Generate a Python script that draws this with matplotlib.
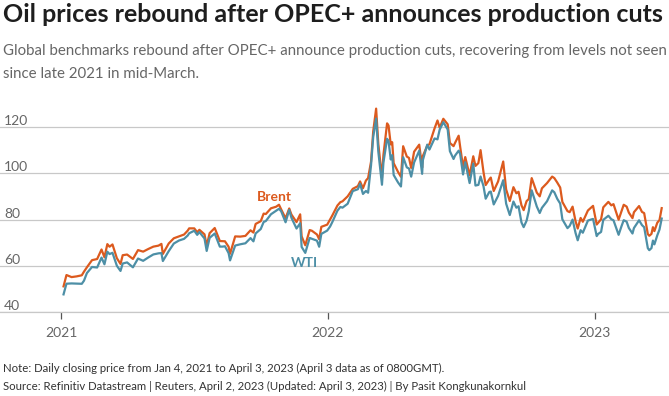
import matplotlib
matplotlib.use('Agg')
import matplotlib.pyplot as plt
import pandas as pd

# =========================
# DONNEES
# =========================
dates = [
    '2021-01-04', '2021-01-08', '2021-01-15', '2021-01-22', '2021-01-29', '2021-02-05',
    '2021-02-12', '2021-02-19', '2021-02-25', '2021-03-01', '2021-03-05', '2021-03-12',
    '2021-03-18', '2021-03-23', '2021-03-26', '2021-04-01', '2021-04-09', '2021-04-16',
    '2021-04-23', '2021-04-30', '2021-05-07', '2021-05-14', '2021-05-20', '2021-05-28',
    '2021-06-04', '2021-06-11', '2021-06-18', '2021-06-25', '2021-07-02', '2021-07-09',
    '2021-07-16', '2021-07-19', '2021-07-23', '2021-07-30', '2021-08-06', '2021-08-13',
    '2021-08-20', '2021-08-27', '2021-09-03', '2021-09-10', '2021-09-17', '2021-09-24',
    '2021-10-01', '2021-10-08', '2021-10-15', '2021-10-22', '2021-10-29', '2021-11-04',
    '2021-11-09', '2021-11-12', '2021-11-19', '2021-11-24', '2021-11-26', '2021-12-01',
    '2021-12-07', '2021-12-10', '2021-12-17', '2021-12-23', '2021-12-31',
    '2022-01-07', '2022-01-14', '2022-01-21', '2022-01-28', '2022-02-04', '2022-02-11',
    '2022-02-18', '2022-02-25', '2022-03-01', '2022-03-04', '2022-03-08', '2022-03-11',
    '2022-03-16', '2022-03-18', '2022-03-23', '2022-03-25', '2022-04-01', '2022-04-07',
    '2022-04-11', '2022-04-14', '2022-04-22', '2022-04-25', '2022-04-29', '2022-05-06',
    '2022-05-11', '2022-05-17', '2022-05-20', '2022-05-27', '2022-06-03', '2022-06-08',
    '2022-06-14', '2022-06-17', '2022-06-22', '2022-06-29', '2022-07-01', '2022-07-05',
    '2022-07-08', '2022-07-14', '2022-07-19', '2022-07-22', '2022-07-29', '2022-08-05',
    '2022-08-12', '2022-08-16', '2022-08-22', '2022-08-29', '2022-09-02', '2022-09-07',
    '2022-09-12', '2022-09-16', '2022-09-23', '2022-09-26', '2022-09-30', '2022-10-07',
    '2022-10-14', '2022-10-18', '2022-10-21', '2022-10-28', '2022-11-04', '2022-11-11',
    '2022-11-18', '2022-11-25', '2022-11-28', '2022-12-02', '2022-12-09', '2022-12-16',
    '2022-12-23', '2022-12-30',
    '2023-01-04', '2023-01-06', '2023-01-13', '2023-01-20', '2023-01-27', '2023-02-03',
    '2023-02-10', '2023-02-17', '2023-02-24', '2023-03-03', '2023-03-07', '2023-03-10',
    '2023-03-15', '2023-03-17', '2023-03-20', '2023-03-24', '2023-03-28', '2023-03-31',
    '2023-04-03',
    # points intermediaires
    '2021-02-01', '2021-03-08', '2021-05-18', '2021-06-23', '2021-07-06', '2021-08-10',
    '2021-08-18', '2021-09-21', '2021-10-05', '2021-10-26', '2021-12-20', '2022-01-04',
    '2022-01-18', '2022-02-14', '2022-02-22', '2022-03-28', '2022-03-30', '2022-04-19',
    '2022-05-10', '2022-05-31', '2022-06-24', '2022-07-26', '2022-08-02', '2022-08-10',
    '2022-09-19', '2022-10-03', '2022-11-07', '2022-11-15', '2022-12-06', '2022-12-13',
    '2023-01-10', '2023-01-24', '2023-02-07', '2023-02-14', '2023-02-22', '2023-03-22',
]

brent = [
    51.09, 55.99, 55.10, 55.41, 55.88, 59.34,
    62.43, 62.91, 67.04, 63.69, 69.36, 69.22,
    63.28, 60.79, 64.57, 64.86, 62.95, 66.77,
    66.11, 67.25, 68.28, 68.71, 65.11, 69.63,
    71.89, 72.69, 73.51, 76.18, 76.17, 75.55,
    73.59, 68.62, 74.10, 76.33, 70.70, 70.59,
    65.18, 72.70, 72.61, 72.92, 75.34, 78.09,
    79.28, 82.39, 84.86, 85.53, 84.38, 80.54,
    84.78, 82.17, 78.89, 82.25, 72.72, 68.87,
    75.44, 75.15, 73.52, 76.85, 77.78,
    81.75, 86.06, 87.89, 90.03, 93.27, 94.44,
    93.54, 97.93, 104.97, 118.11, 127.98, 112.67,
    98.02, 107.93, 121.60, 120.65, 104.39, 100.58,
    98.48, 111.70, 106.65, 102.32, 109.34, 112.39,
    107.51, 111.93, 112.55, 119.43, 119.72, 123.58,
    121.17, 113.12, 111.74, 116.26, 111.63, 102.77,
    107.02, 99.10, 107.35, 103.20, 110.01, 94.92,
    98.15, 92.34, 96.48, 105.09, 93.02, 88.00,
    94.00, 91.35, 86.15, 84.06, 87.96, 97.92,
    91.63, 90.03, 93.50, 95.77, 98.57, 95.99,
    87.62, 83.63, 83.19, 85.57, 76.10, 79.04,
    83.92, 85.91,
    77.84, 78.57, 85.28, 87.63, 86.66, 79.94,
    86.39, 83.00, 83.16, 85.83, 83.29, 82.78,
    73.69, 72.97, 73.79, 74.99, 78.65, 79.77,
    84.93,
    57.46, 68.24, 69.46, 75.19, 74.53, 70.63,
    68.23, 74.36, 82.56, 86.40, 71.52, 80.00,
    87.51, 96.48, 96.84, 112.48, 113.45, 107.25,
    102.46, 122.84, 113.12, 104.40, 100.54, 97.40,
    92.00, 88.86, 97.92, 93.86, 79.35, 80.68,
    80.10, 86.13, 83.69, 85.58, 80.60, 76.69,
]

wti = [
    47.62, 52.24, 52.36, 52.27, 52.20, 56.85,
    59.47, 59.24, 63.53, 60.64, 66.09, 65.61,
    60.00, 57.76, 60.97, 61.45, 59.32, 63.13,
    62.14, 63.58, 64.90, 65.37, 62.05, 66.32,
    69.62, 70.91, 71.64, 74.05, 75.16, 74.56,
    71.81, 66.42, 72.07, 73.95, 68.28, 68.44,
    62.32, 68.74, 69.29, 69.72, 71.97, 73.98,
    75.88, 79.35, 82.28, 83.76, 83.57, 78.81,
    84.15, 80.79, 76.10, 78.39, 68.15, 65.57,
    72.05, 71.67, 70.86, 73.79, 75.21,
    78.90, 83.82, 85.14, 86.82, 92.31, 93.10,
    91.07, 91.59, 103.41, 115.68, 123.70, 109.33,
    95.04, 104.70, 114.93, 113.90, 99.27, 96.03,
    94.29, 106.95, 102.07, 98.54, 104.69, 109.77,
    105.71, 112.40, 110.28, 115.07, 118.87, 122.11,
    118.93, 109.56, 106.19, 109.78, 108.43, 99.50,
    104.79, 95.78, 104.22, 94.70, 98.62, 89.01,
    92.09, 86.53, 90.23, 97.01, 86.87, 81.94,
    87.78, 85.11, 78.74, 76.71, 79.49, 92.64,
    85.61, 82.82, 85.05, 87.90, 92.61, 88.96,
    80.08, 76.28, 77.24, 79.98, 71.02, 74.29,
    79.56, 80.26,
    72.84, 73.77, 79.86, 81.64, 79.68, 73.39,
    79.72, 76.34, 76.32, 79.68, 77.58, 76.68,
    67.61, 66.74, 67.64, 69.26, 73.20, 75.67,
    80.42,
    53.55, 65.05, 65.49, 73.08, 73.37, 68.29,
    65.46, 70.56, 78.93, 84.65, 68.23, 76.99,
    85.43, 95.46, 92.35, 105.96, 107.82, 102.56,
    99.76, 114.67, 107.62, 94.98, 94.42, 91.93,
    85.73, 83.63, 91.79, 86.92, 74.25, 75.39,
    74.63, 80.13, 77.14, 79.06, 73.95, 70.90,
]

y_ticks = [40, 60, 80, 100, 120]
x_ticks = ['2021-01-01', '2022-01-01', '2023-01-01']
x_labels = ['2021', '2022', '2023']

df = pd.DataFrame({'date': pd.to_datetime(dates), 'brent': brent, 'wti': wti})
df = df.sort_values('date')

BRENT_COL = '#dc5a1e'
WTI_COL = '#4d8fa6'
FONT = ['Lato', 'DejaVu Sans']

plt.rcParams['font.family'] = FONT

# =========================
# FIGURE
# =========================
fig = plt.figure(figsize=(6.69, 3.96), dpi=100)
ax = fig.add_axes([0.0, 1 - 312 / 396, 1.0, 215 / 396])

ax.plot(df['date'], df['brent'], color=BRENT_COL, linewidth=1.6, solid_joinstyle='round')
ax.plot(df['date'], df['wti'], color=WTI_COL, linewidth=1.6, solid_joinstyle='round')

ax.set_xlim(pd.Timestamp('2020-10-09'), pd.Timestamp('2023-04-13'))
ax.set_ylim(40, 133)

# grille horizontale
ax.set_yticks(y_ticks)
ax.grid(axis='y', color='#c8c8c8', linewidth=0.9)
ax.set_axisbelow(True)
ax.tick_params(axis='y', length=0, pad=-3, labelsize=10, labelcolor='#666666')
for lbl in ax.get_yticklabels():
    lbl.set_horizontalalignment('left')
    lbl.set_verticalalignment('bottom')

ax.set_xticks(pd.to_datetime(x_ticks))
ax.set_xticklabels(x_labels)
ax.tick_params(axis='x', length=5, width=0.9, color='#555555', pad=6,
               labelsize=10, labelcolor='#666666')

for s in ['top', 'right', 'left']:
    ax.spines[s].set_visible(False)
ax.spines['bottom'].set_color('#c8c8c8')
ax.spines['bottom'].set_linewidth(0.9)

# etiquettes des series
ax.text(pd.Timestamp('2021-10-19'), 89.7, 'Brent', color=BRENT_COL, fontsize=10,
        fontweight='bold', ha='center', va='center')
ax.text(pd.Timestamp('2021-11-30'), 61.2, 'WTI', color=WTI_COL, fontsize=10,
        fontweight='bold', ha='center', va='center')

# =========================
# TEXTES
# =========================
fig.text(3 / 669, 1 - 3 / 396, 'Oil prices rebound after OPEC+ announces production cuts',
         fontsize=18, fontweight='bold', color='#1e1e1e', va='top', ha='left')
fig.text(3 / 669, 1 - 44 / 396,
         'Global benchmarks rebound after OPEC+ announce production cuts, recovering from levels not seen\n'
         'since late 2021 in mid-March.',
         fontsize=10.8, color='#666666', va='top', ha='left', linespacing=1.8)
fig.text(3 / 669, 1 - 363 / 396,
         'Note: Daily closing price from Jan 4, 2021 to April 3, 2023 (April 3 data as of 0800GMT).\n'
         'Source: Refinitiv Datastream | Reuters, April 2, 2023 (Updated: April 3, 2023) | By Pasit Kongkunakornkul',
         fontsize=8.2, color='#333333', va='top', ha='left', linespacing=1.8)

fig.savefig('out.png', dpi=100)
